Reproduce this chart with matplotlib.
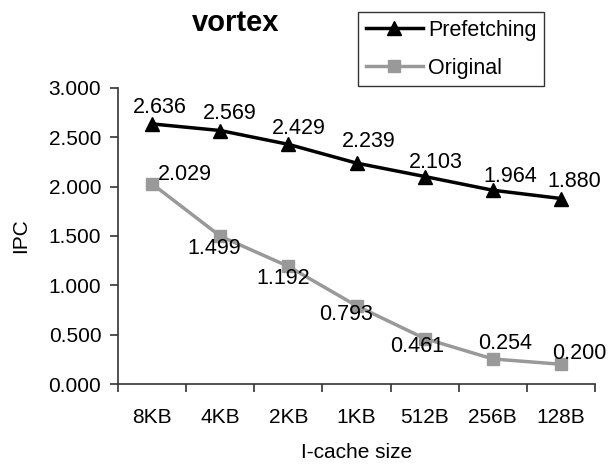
import matplotlib
matplotlib.use("Agg")
import matplotlib.pyplot as plt
import numpy as np

categories = ["8KB", "4KB", "2KB", "1KB", "512B", "256B", "128B"]
prefetching = [2.636, 2.569, 2.429, 2.239, 2.103, 1.964, 1.880]
original = [2.029, 1.499, 1.192, 0.793, 0.461, 0.254, 0.200]
yticks = [0.0, 0.5, 1.0, 1.5, 2.0, 2.5, 3.0]

plt.rcParams['font.family'] = ['Liberation Sans', 'DejaVu Sans']

fig = plt.figure(figsize=(6.13, 4.70), dpi=100)
ax = fig.add_axes([118/613, 1 - 384/470, 477/613, 296/470])

x = np.arange(len(categories))
ax.plot(x, prefetching, color='black', lw=2.5, marker='^', ms=10, label='Prefetching', clip_on=False, zorder=3)
ax.plot(x, original, color='#999999', lw=2.5, marker='s', ms=8, label='Original', clip_on=False, zorder=3)

PX = 72 / 100.0  # pixel -> point
pre_off = [(8, -16), (10, -17), (10, -16), (12, -22), (11, -14), (17, -14), (13, -17)]
for xi, v, (dx, dy) in zip(x, prefetching, pre_off):
    ax.annotate(f"{v:.3f}", (xi, v), xytext=(dx * PX, -dy * PX), textcoords='offset points',
                ha='center', va='center', fontsize=15.5)
orig_off = [(33, -9), (-6, 12), (-5, 12), (-10, 9), (-8, 8), (12, -15), (18, -11)]
for xi, v, (dx, dy) in zip(x, original, orig_off):
    ax.annotate(f"{v:.3f}", (xi, v), xytext=(dx * PX, -dy * PX), textcoords='offset points',
                ha='center', va='center', fontsize=15.5)

ax.set_xlim(-0.5, len(categories) - 0.5)
ax.set_ylim(0, 3)
ax.set_yticks(yticks)
ax.set_yticklabels([f"{t:.3f}" for t in yticks], fontsize=15)
ax.set_xticks(np.arange(len(categories) + 1) - 0.5)
ax.set_xticklabels([])
ax.set_xticks(x, minor=True)
ax.set_xticklabels(categories, minor=True, fontsize=15)
ax.tick_params(axis='x', which='major', length=6, width=1.2, direction='out', colors='#333333')
ax.tick_params(axis='x', which='minor', length=0, pad=17, labelcolor='black')
ax.tick_params(axis='y', length=6, width=1.2, direction='out', pad=6, color='#333333')

for s in ['top', 'right']:
    ax.spines[s].set_visible(False)
for s in ['left', 'bottom']:
    ax.spines[s].set_linewidth(1.2)
    ax.spines[s].set_color('#333333')

ax.set_xlabel("I-cache size", fontsize=15, labelpad=12)
ax.set_ylabel("IPC", fontsize=15, labelpad=13)

fig.text(236/613, 1 - 23/470, "vortex", fontsize=21, fontweight='bold', ha='center', va='center')

leg = fig.legend(loc='upper left', bbox_to_anchor=(358/613, 1 - 12/470), fontsize=15.5,
                 frameon=True, fancybox=False, edgecolor='black', handlelength=2.65,
                 borderpad=0.35, labelspacing=0.8, handletextpad=0.25, borderaxespad=0)
leg.get_frame().set_linewidth(1.0)

fig.savefig("out.png", dpi=100)
